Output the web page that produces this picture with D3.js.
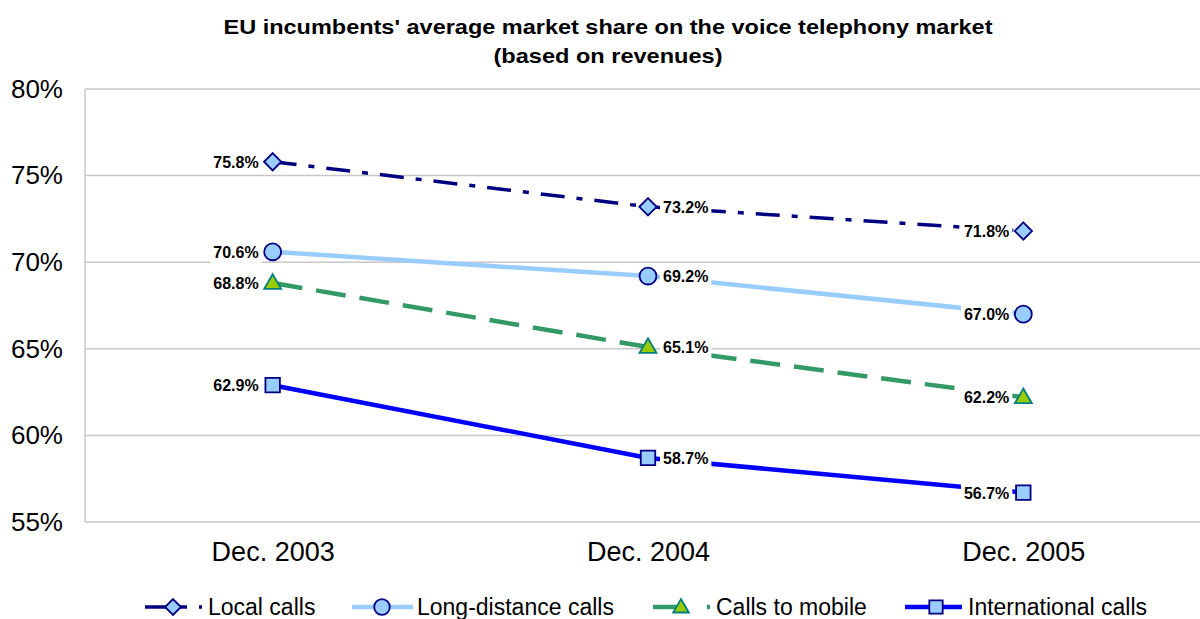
<!DOCTYPE html>
<html>
<head>
<meta charset="utf-8">
<script src="https://cdn.jsdelivr.net/npm/d3@7"></script>
<style>
  body { margin: 0; background: #fff; }
  text { font-family: "Liberation Sans", Arial, sans-serif; }
</style>
</head>
<body>
<script>
"use strict";
(function(){
    // data
    const periods = ["Dec. 2003", "Dec. 2004", "Dec. 2005"]
    const seriesNames = ["Local calls", "Long-distance calls", "Calls to mobile", "International calls"]
    const localCalls = [75.8, 73.2, 71.8]
    const longDistance = [70.6, 69.2, 67.0]
    const callsToMobile = [68.8, 65.1, 62.2]
    const international = [62.9, 58.7, 56.7]
    const yTicks = [55, 60, 65, 70, 75, 80]

    const measurements = {
        width: 1200,
        height: 619,
        left: 85,
        top: 89,
        bottom: 522,
        right: 1211
    }

    const svg = d3.select('body').append('svg')
        .attr('width', measurements.width)
        .attr('height', measurements.height)

    // a diamond = square turned 45 degrees
    const diamond = {
        draw: function(context, size) {
            const r = Math.sqrt(size / 2)
            context.moveTo(0, -r)
            context.lineTo(r, 0)
            context.lineTo(0, r)
            context.lineTo(-r, 0)
            context.closePath()
        }
    }

    // series styles
    const styles = [
        { values: localCalls, stroke: "#000080", width: 3.5, dash: "24,12,6,12", marker: diamond, fill: "#99ccff", mstroke: "#000080", size: 150 },
        { values: longDistance, stroke: "#99ccff", width: 4.5, dash: null, marker: d3.symbolCircle, fill: "#99ccff", mstroke: "#000080", size: 225 },
        { values: callsToMobile, stroke: "#339966", width: 4.5, dash: "30,14", marker: d3.symbolTriangle, fill: "#99cc00", mstroke: "#008080", size: 125 },
        { values: international, stroke: "#0000ff", width: 4.5, dash: null, marker: d3.symbolSquare, fill: "#99ccff", mstroke: "#000080", size: 210 }
    ]

    const scaleX = d3.scalePoint()
        .domain(periods)
        .range([measurements.left, measurements.right])
        .padding(0.5)

    const scaleY = d3.scaleLinear()
        .domain([55, 80])
        .range([measurements.bottom, measurements.top])

    // title
    svg.append('text')
        .attr('x', 608).attr('y', 34)
        .attr('text-anchor', 'middle')
        .attr('textLength', 769).attr('lengthAdjust', 'spacingAndGlyphs')
        .style('font-size', '21px').style('font-weight', 'bold')
        .text("EU incumbents' average market share on the voice telephony market")
    svg.append('text')
        .attr('x', 608).attr('y', 63)
        .attr('text-anchor', 'middle')
        .attr('textLength', 229).attr('lengthAdjust', 'spacingAndGlyphs')
        .style('font-size', '21px').style('font-weight', 'bold')
        .text("(based on revenues)")

    // gridlines
    svg.append('g').selectAll('line')
        .data(yTicks)
        .enter().append('line')
        .attr('x1', measurements.left).attr('x2', measurements.width)
        .attr('y1', d => scaleY(d)).attr('y2', d => scaleY(d))
        .attr('stroke', '#c8c8c8').attr('stroke-width', 1.5)

    svg.append('line')
        .attr('x1', measurements.left).attr('x2', measurements.left)
        .attr('y1', measurements.top).attr('y2', measurements.bottom)
        .attr('stroke', '#c8c8c8').attr('stroke-width', 1.5)

    // y axis
    const yAxis = d3.axisLeft(scaleY)
        .tickValues(yTicks)
        .tickSize(0)
        .tickPadding(22)
        .tickFormat(d => d + "%")
    const gy = svg.append('g')
        .attr('transform', 'translate(' + measurements.left + ',0)')
        .call(yAxis)
    gy.select('.domain').remove()
    gy.selectAll('text')
        .style('font-size', '26px').attr('fill', '#000')
        .style('font-family', '"Liberation Sans", Arial, sans-serif')

    // x axis
    const xAxis = d3.axisBottom(scaleX).tickSize(0).tickPadding(20)
    const gx = svg.append('g')
        .attr('transform', 'translate(0,' + measurements.bottom + ')')
        .call(xAxis)
    gx.select('.domain').remove()
    gx.selectAll('text')
        .style('font-size', '27px').attr('fill', '#000')
        .style('font-family', '"Liberation Sans", Arial, sans-serif')

    // lines
    const line = d3.line()
        .x((d, i) => scaleX(periods[i]))
        .y(d => scaleY(d))

    styles.forEach(s => {
        svg.append('path')
            .attr('d', line(s.values))
            .attr('fill', 'none')
            .attr('stroke', s.stroke)
            .attr('stroke-width', s.width)
            .attr('stroke-dasharray', s.dash)
    })

    // data labels with white boxes
    styles.forEach(s => {
        s.values.forEach((v, i) => {
            const x = scaleX(periods[i])
            const y = scaleY(v)
            const right = i === 1
            const g = svg.append('g')
            const t = g.append('text')
                .attr('x', right ? x + 15 : x - 14)
                .attr('y', y + 6)
                .attr('text-anchor', right ? 'start' : 'end')
                .style('font-size', '16px').style('font-weight', 'bold')
                .text(v.toFixed(1) + "%")
            const bb = t.node().getBBox()
            g.insert('rect', 'text')
                .attr('x', bb.x - 3).attr('y', bb.y - 2)
                .attr('width', bb.width + 6).attr('height', bb.height + 4)
                .attr('fill', '#fff')
        })
    })

    // markers
    styles.forEach(s => {
        svg.append('g').selectAll('path')
            .data(s.values)
            .enter().append('path')
            .attr('d', d3.symbol().type(s.marker).size(s.size))
            .attr('transform', (d, i) => 'translate(' + scaleX(periods[i]) + ',' + (scaleY(d) + (s.marker === d3.symbolTriangle ? 1 : 0)) + ')')
            .attr('fill', s.fill)
            .attr('stroke', s.mstroke)
            .attr('stroke-width', 1.8)
    })

    // legend
    const legendX = [145, 352, 653, 905]
    const lineEnd = [42, 61, 29, 57]
    const markerX = [28, 30, 28, 31]
    const textX = [63, 65, 63, 63]
    const legendY = 607
    const legend = svg.selectAll('.legend')
        .data(styles)
        .enter().append('g')
        .attr('class', 'legend')
        .attr('transform', (d, i) => 'translate(' + legendX[i] + ',' + legendY + ')')

    legend.append('line')
        .attr('x1', 0).attr('x2', (d, i) => lineEnd[i])
        .attr('y1', 0).attr('y2', 0)
        .attr('stroke', d => d.stroke)
        .attr('stroke-width', d => d.width)
    legend.filter((d, i) => i === 0 || i === 2).append('line')
        .attr('x1', 54).attr('x2', 57)
        .attr('y1', 0).attr('y2', 0)
        .attr('stroke', d => d.stroke)
        .attr('stroke-width', d => d.width)
    legend.append('path')
        .attr('d', d => d3.symbol().type(d.marker).size(d.size * 0.85)())
        .attr('transform', (d, i) => 'translate(' + markerX[i] + ',' + (d.marker === d3.symbolTriangle ? 1 : 0) + ')')
        .attr('fill', d => d.fill)
        .attr('stroke', d => d.mstroke)
        .attr('stroke-width', 1.8)
    legend.append('text')
        .attr('x', (d, i) => textX[i])
        .attr('y', 8)
        .style('font-size', '23px')
        .text((d, i) => seriesNames[i])
})()
</script>
</body>
</html>
